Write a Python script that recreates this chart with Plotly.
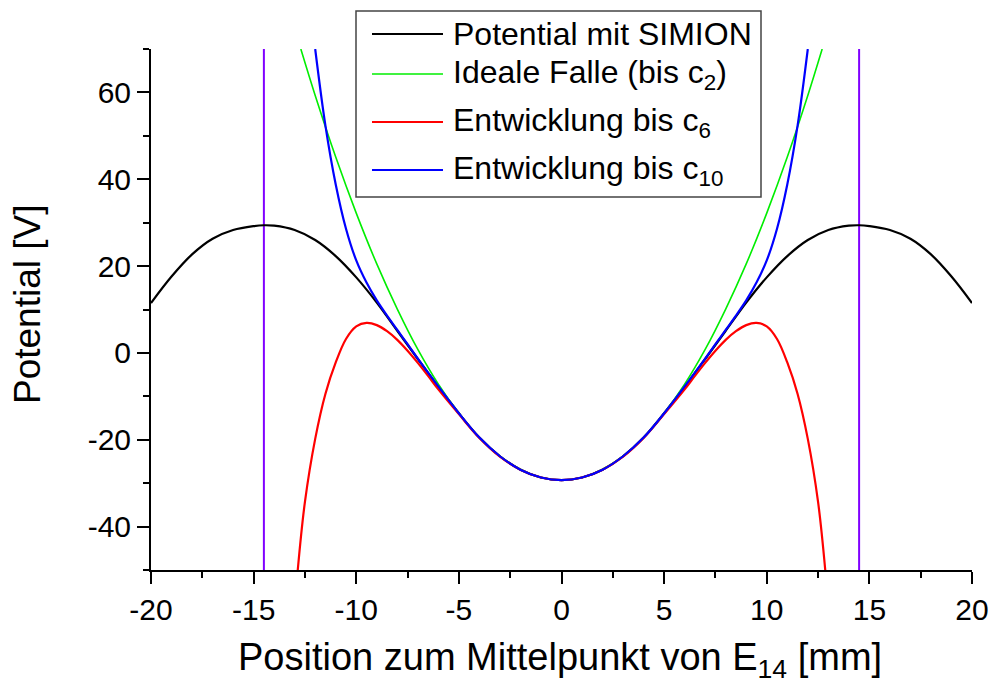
import plotly.graph_objects as go

# Potential along the axis: SIMION result and multipole expansions
x_simion = [-20, -19, -18, -17, -16, -15, -14.5, -14, -13, -12, -11, -10, -9, -8, -7, -6, -5, -4, -3, -2, -1, 0,
            1, 2, 3, 4, 5, 6, 7, 8, 9, 10, 11, 12, 13, 14, 14.5, 15, 16, 17, 18, 19, 20]
y_simion = [11.5, 17.6, 22.7, 26.3, 28.3, 29.2, 29.4, 29.3, 28.3, 26.0, 22.3, 17.4, 11.6, 5.1, -1.4, -7.8, -13.9, -19.5, -23.8, -26.9, -28.7, -29.3,
            -28.7, -26.9, -23.8, -19.5, -13.9, -7.8, -1.4, 5.1, 11.6, 17.4, 22.3, 26.0, 28.3, 29.3, 29.4, 29.2, 28.3, 26.3, 22.7, 17.6, 11.5]

x_c2 = [-12.7, -12, -11, -10, -9, -8, -7, -6, -5, -4, -3, -2, -1, 0, 1, 2, 3, 4, 5, 6, 7, 8, 9, 10, 11, 12, 12.7]
y_c2 = [70.0, 59.3, 45.1, 32.2, 20.5, 10.1, 0.8, -7.2, -13.9, -19.5, -23.8, -26.8, -28.7, -29.3,
        -28.7, -26.8, -23.8, -19.5, -13.9, -7.2, 0.8, 10.1, 20.5, 32.2, 45.1, 59.3, 70.0]

x_c6 = [-12.85, -12.5, -12, -11.5, -11, -10.5, -10, -9.5, -9, -8.5, -8, -7.5, -7, -6.5, -6, -5, -4, -3, -2, -1, 0,
        1, 2, 3, 4, 5, 6, 6.5, 7, 7.5, 8, 8.5, 9, 9.5, 10, 10.5, 11, 11.5, 12, 12.5, 12.85]
y_c6 = [-50.0, -34.3, -19.8, -9.4, -2.2, 3.2, 6.1, 6.9, 6.4, 5.0, 3.0, 0.5, -2.3, -5.3, -8.4, -14.1, -19.6, -23.9, -26.9, -28.7, -29.3,
        -28.7, -26.9, -23.9, -19.6, -14.1, -8.4, -5.3, -2.3, 0.5, 3.0, 5.0, 6.4, 6.9, 6.1, 3.2, -2.2, -9.4, -19.8, -34.3, -50.0]

x_c10 = [-12, -11.5, -11, -10.5, -10, -9.5, -9, -8.5, -8, -7.5, -7, -6, -5, -4, -3, -2, -1, 0,
         1, 2, 3, 4, 5, 6, 7, 7.5, 8, 8.5, 9, 9.5, 10, 10.5, 11, 11.5, 12]
y_c10 = [70.0, 52.3, 38.8, 28.6, 21.3, 16.2, 12.1, 8.6, 5.3, 2.0, -1.3, -7.7, -13.9, -19.5, -23.8, -26.9, -28.7, -29.3,
         -28.7, -26.9, -23.8, -19.5, -13.9, -7.7, -1.3, 2.0, 5.3, 8.6, 12.1, 16.2, 21.3, 28.6, 38.8, 52.3, 70.0]

# Electrode positions
x_electrodes = [-14.5, 14.5]
y_span = [-50, 70]

series = [
    ("Potential mit SIMION", x_simion, y_simion, "#000000", 2.2),
    ("Ideale Falle (bis c<sub>2</sub>)", x_c2, y_c2, "#00ee00", 1.6),
    ("Entwicklung bis c<sub>6</sub>", x_c6, y_c6, "#ff0000", 2.2),
    ("Entwicklung bis c<sub>10</sub>", x_c10, y_c10, "#0000ff", 2.2),
]

FONT = "Liberation Sans, Arial, sans-serif"

fig = go.Figure()
for xe in x_electrodes:
    fig.add_trace(go.Scatter(x=[xe, xe], y=y_span, mode="lines",
                             line=dict(color="#8000ff", width=2), showlegend=False, hoverinfo="skip"))
for name, xs, ys, col, w in series:
    fig.add_trace(go.Scatter(x=xs, y=ys, mode="lines", name=name,
                             line=dict(color=col, width=w, shape="spline", smoothing=1.0),
                             showlegend=False))

# Frame geometry (pixels) and helpers to place items in paper coordinates
L, R, T, B = 151, 972, 49, 570
W, H = 992, 686
def px(xp):
    return (xp - L) / (R - L)
def py(yp):
    return (B - yp) / (B - T)

# Legend box
fig.add_shape(type="rect", xref="paper", yref="paper",
              x0=px(356), x1=px(761), y0=py(197), y1=py(11),
              line=dict(color="#444444", width=1.5), fillcolor="white", layer="above")
row_y = [34, 74, 122, 170]
for (name, xs, ys, col, w), yy in zip(series, row_y):
    fig.add_shape(type="line", xref="paper", yref="paper",
                  x0=px(372), x1=px(443), y0=py(yy), y1=py(yy),
                  line=dict(color=col, width=w), layer="above")
    fig.add_annotation(xref="paper", yref="paper", x=px(451), y=py(yy),
                       xanchor="left", yanchor="middle", text=name, showarrow=False,
                       font=dict(family=FONT, size=32, color="black"))

# Axis titles
fig.add_annotation(xref="paper", yref="paper", x=px(560), y=py(660),
                   xanchor="center", yanchor="middle", showarrow=False,
                   text="Position zum Mittelpunkt von E<sub>14</sub> [mm]",
                   font=dict(family=FONT, size=38, color="black"))
fig.add_annotation(xref="paper", yref="paper", x=px(27), y=py(304),
                   xanchor="center", yanchor="middle", showarrow=False, textangle=-90,
                   text="Potential [V]",
                   font=dict(family=FONT, size=37, color="black"))

axis_common = dict(showline=True, linecolor="black", linewidth=2, ticks="outside",
                   ticklen=12, tickwidth=2, tickcolor="black", showgrid=False, zeroline=False,
                   tickfont=dict(family=FONT, size=30, color="black"), mirror=False,
                   automargin=False)

fig.update_xaxes(range=[-20, 20], tickmode="array", tickvals=[-20, -15, -10, -5, 0, 5, 10, 15, 20],
                 ticktext=["-20", "-15", "-10", "-5", "0", "5", "10", "15", "20"],
                 minor=dict(dtick=2.5, tick0=0, ticks="outside", ticklen=6, tickwidth=2, tickcolor="black"),
                 **axis_common)
fig.update_yaxes(range=[-50, 70], tickmode="array", tickvals=[-40, -20, 0, 20, 40, 60],
                 ticktext=["-40", "-20", "0", "20", "40", "60"],
                 minor=dict(dtick=10, tick0=0, ticks="outside", ticklen=6, tickwidth=2, tickcolor="black"),
                 **axis_common)

fig.update_layout(width=W, height=H, margin=dict(l=L, r=W - R, t=T, b=H - B),
                  plot_bgcolor="white", paper_bgcolor="white", showlegend=False)

fig.write_html("out.html")
